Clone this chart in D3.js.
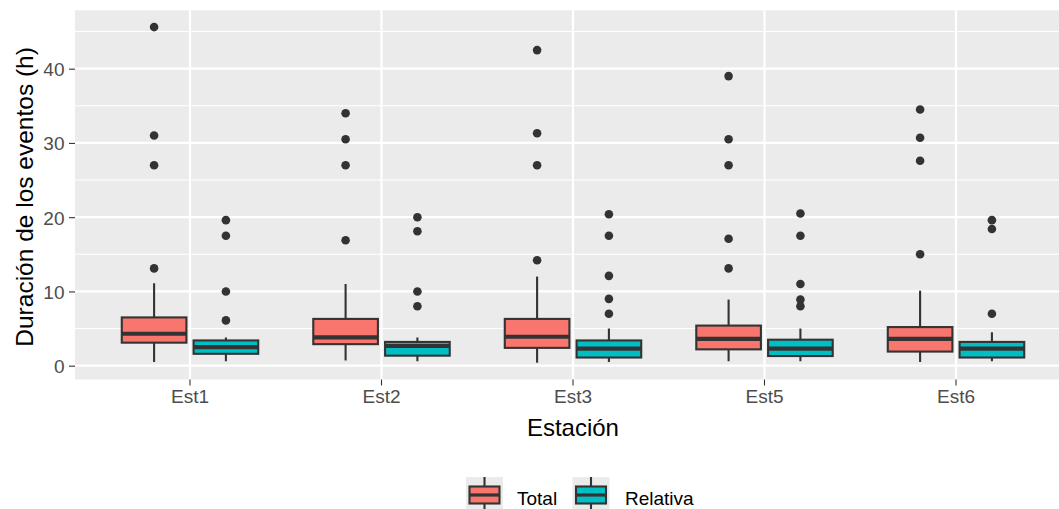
<!DOCTYPE html>
<html>
<head>
<meta charset="utf-8">
<script src="https://cdn.jsdelivr.net/npm/d3@7"></script>
<style>
  body { margin: 0; background: #fff; }
  svg { display: block; font-family: "Liberation Sans", Arial, sans-serif; }
</style>
</head>
<body>
<svg id="chart" width="1059" height="509"></svg>
<script>
const stations = ["Est1", "Est2", "Est3", "Est5", "Est6"];
const groups = ["Total", "Relativa"];
const colors = ["#F8766D", "#00BFC4"];
const yTicks = [0, 10, 20, 30, 40];

// box stats per station: [whiskerLow, q1, median, q3, whiskerHigh]
const totalStats = [
  [0.5, 3.1, 4.3, 6.5, 11.1],
  [0.7, 2.9, 3.8, 6.3, 11.0],
  [0.4, 2.4, 3.9, 6.3, 12.0],
  [0.6, 2.2, 3.6, 5.4, 8.9],
  [0.5, 1.9, 3.6, 5.2, 10.1]
];
const relativaStats = [
  [0.6, 1.6, 2.5, 3.4, 3.8],
  [0.6, 1.35, 2.65, 3.2, 3.8],
  [0.5, 1.1, 2.3, 3.4, 5.0],
  [0.6, 1.3, 2.3, 3.5, 5.0],
  [0.6, 1.1, 2.3, 3.2, 4.5]
];
const totalOutliers = [
  [13.1, 27.0, 31.0, 45.6],
  [16.9, 27.0, 30.5, 34.0],
  [14.2, 27.0, 31.3, 42.5],
  [13.1, 17.1, 27.0, 30.5, 39.0],
  [15.0, 27.6, 30.7, 34.5]
];
const relativaOutliers = [
  [6.1, 10.0, 17.5, 19.6],
  [8.0, 10.0, 18.1, 20.0],
  [7.0, 9.0, 12.1, 17.5, 20.4],
  [8.0, 8.9, 11.0, 17.5, 20.5],
  [7.0, 18.4, 19.6]
];

const svg = d3.select("#chart");
const panel = { left: 75, top: 10.3, bottom: 379.5 };
const step = 191.5;
const firstX = 190;

const x = d3.scaleBand()
  .domain(stations)
  .range([firstX - step / 2, firstX + step * (stations.length - 0.5)])
  .paddingInner(0).paddingOuter(0);
const xc = s => x(s) + x.bandwidth() / 2;
const dodge = d3.scaleBand().domain(groups).range([-0.375 * step, 0.375 * step]);
const boxW = dodge.bandwidth() * 0.9;

const y = d3.scaleLinear().domain([-1.86, 47.86]).range([panel.bottom, panel.top]);

const panelRight = firstX + step * (stations.length - 1) + 0.6 * step;

svg.append("rect")
  .attr("x", panel.left).attr("y", panel.top)
  .attr("width", panelRight - panel.left).attr("height", panel.bottom - panel.top)
  .attr("fill", "#EBEBEB");

const grid = svg.append("g");
d3.range(5, 50, 10).forEach(v => {
  grid.append("line").attr("x1", panel.left).attr("x2", panelRight)
    .attr("y1", y(v)).attr("y2", y(v)).attr("stroke", "#fff").attr("stroke-width", 1.1);
});
yTicks.forEach(v => {
  grid.append("line").attr("x1", panel.left).attr("x2", panelRight)
    .attr("y1", y(v)).attr("y2", y(v)).attr("stroke", "#fff").attr("stroke-width", 2.2);
});
stations.forEach(s => {
  grid.append("line").attr("x1", xc(s)).attr("x2", xc(s))
    .attr("y1", panel.top).attr("y2", panel.bottom).attr("stroke", "#fff").attr("stroke-width", 2.2);
});

// boxes
const allStats = [totalStats, relativaStats];
const allOut = [totalOutliers, relativaOutliers];
const dark = "#333333";
groups.forEach((g, gi) => {
  stations.forEach((s, si) => {
    const cx = xc(s) + dodge(g) + dodge.bandwidth() / 2;
    const [lo, q1, med, q3, hi] = allStats[gi][si];
    const bg = svg.append("g");
    bg.append("line").attr("x1", cx).attr("x2", cx).attr("y1", y(hi)).attr("y2", y(q3))
      .attr("stroke", dark).attr("stroke-width", 2.1);
    bg.append("line").attr("x1", cx).attr("x2", cx).attr("y1", y(q1)).attr("y2", y(lo))
      .attr("stroke", dark).attr("stroke-width", 2.1);
    bg.append("rect").attr("x", cx - boxW / 2).attr("y", y(q3))
      .attr("width", boxW).attr("height", y(q1) - y(q3))
      .attr("fill", colors[gi]).attr("stroke", dark).attr("stroke-width", 2.1);
    bg.append("line").attr("x1", cx - boxW / 2).attr("x2", cx + boxW / 2)
      .attr("y1", y(med)).attr("y2", y(med)).attr("stroke", dark).attr("stroke-width", 4.2);
    bg.selectAll("circle").data(allOut[gi][si]).join("circle")
      .attr("cx", cx).attr("cy", d => y(d)).attr("r", 4.3).attr("fill", dark);
  });
});

// axes
const yAxis = svg.append("g").attr("transform", `translate(${panel.left},0)`)
  .call(d3.axisLeft(y).tickValues(yTicks).tickSize(6).tickPadding(4.5));
yAxis.select(".domain").remove();
yAxis.selectAll("line").attr("stroke", dark).attr("stroke-width", 1.1);
yAxis.selectAll("text").attr("fill", "#4D4D4D").attr("font-size", 19).attr("font-family", null)
  .attr("dy", "0.36em");

const xAxis = svg.append("g").attr("transform", `translate(0,${panel.bottom})`)
  .call(d3.axisBottom(x).tickSize(6).tickPadding(4));
xAxis.select(".domain").remove();
xAxis.selectAll("line").attr("stroke", dark).attr("stroke-width", 1.1);
xAxis.selectAll("text").attr("fill", "#4D4D4D").attr("font-size", 19).attr("font-family", null);

svg.append("text").attr("x", (panel.left + panelRight) / 2).attr("y", 435.5)
  .attr("text-anchor", "middle").attr("font-size", 24).text("Estación");
svg.append("text")
  .attr("transform", `translate(32.5,${(panel.top + panel.bottom) / 2 + 2}) rotate(-90)`)
  .attr("text-anchor", "middle").attr("font-size", 24.5).text("Duración de los eventos (h)");

// legend
const legendItems = [
  { x: 466, label: "Total", tx: 517 },
  { x: 572.5, label: "Relativa", tx: 625 }
];
legendItems.forEach((it, i) => {
  const lg = svg.append("g").attr("transform", `translate(${it.x},477)`);
  lg.append("rect").attr("width", 37).attr("height", 34).attr("fill", "#EBEBEB");
  const kx = 18.5;
  lg.append("line").attr("x1", kx).attr("x2", kx).attr("y1", 0).attr("y2", 34)
    .attr("stroke", dark).attr("stroke-width", 2.1);
  lg.append("rect").attr("x", 3.5).attr("y", 9.5).attr("width", 30).attr("height", 17)
    .attr("fill", colors[i]).attr("stroke", dark).attr("stroke-width", 2.1);
  lg.append("line").attr("x1", 3.5).attr("x2", 33.5).attr("y1", 18).attr("y2", 18)
    .attr("stroke", dark).attr("stroke-width", 3.2);
  svg.append("text").attr("x", it.tx).attr("y", 505).attr("font-size", 19).text(it.label);
});
</script>
</body>
</html>
